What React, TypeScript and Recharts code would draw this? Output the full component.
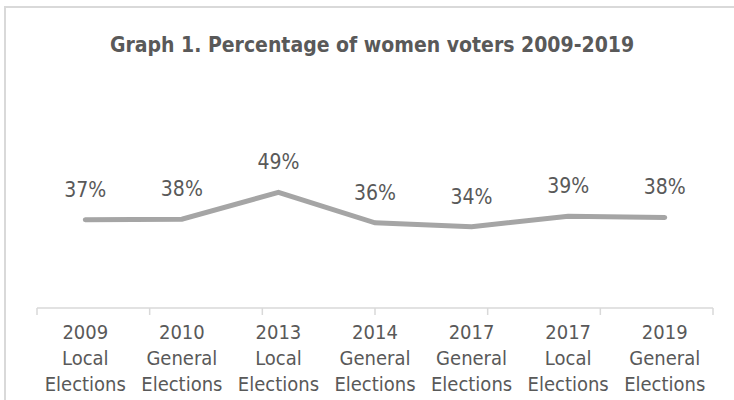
import { LineChart, Line, XAxis, YAxis, LabelList } from 'recharts';

const years = ['2009', '2010', '2013', '2014', '2017', '2017', '2019'];
const kinds = ['Local', 'General', 'Local', 'General', 'General', 'Local', 'General'];
// share of women voters (%), labels are rounded
const share = [37.4, 37.6, 49.0, 36.1, 34.4, 38.9, 38.4];
const boundaryTicks = [0, 1, 2, 3, 4, 5, 6, 7];

const data = years.map((y, i) => ({
    label: `${y} ${kinds[i]} Elections`,
    value: share[i],
}));

const FONT = "Tahoma, 'DejaVu Sans Condensed', 'DejaVu Sans', sans-serif";
const TEXT = '#595959';
const LINE = '#A5A5A5';
const AXIS = '#D9D9D9';

interface TickProps {
    x?: number;
    y?: number;
    payload?: { value: string };
}

const CategoryTick = ({ x, y, payload }: TickProps) => {
    if (x === undefined || y === undefined || !payload) return null;
    const words = payload.value.split(' ');
    return (
        <text x={x} y={y} textAnchor="middle" fill={TEXT} fontSize={20} fontFamily={FONT}>
            <tspan x={x} dy={30}>{words[0]}</tspan>
            <tspan x={x} dy={26}>{words[1]}</tspan>
            <tspan x={x} dy={26}>{words[2]}</tspan>
        </text>
    );
};

// boundary axis only needs its tick lines, no text
const NoLabel = () => <g />;

interface LabelProps {
    x?: number;
    y?: number;
    value?: number;
}

const PctLabel = ({ x, y, value }: LabelProps) => {
    if (x === undefined || y === undefined || value === undefined) return null;
    return (
        <text x={x} y={y - 23} textAnchor="middle" fill={TEXT} fontSize={21} fontFamily={FONT}>
            {`${Math.round(value)}%`}
        </text>
    );
};

export default function App() {
    return (
        <div
            style={{
                position: 'absolute',
                left: 0,
                top: 0,
                width: 734,
                height: 400,
                overflow: 'hidden',
                background: '#fff',
            }}
        >
            <div
                style={{
                    position: 'absolute',
                    left: 4,
                    top: 6,
                    width: 760,
                    height: 420,
                    border: `2px solid ${AXIS}`,
                    boxSizing: 'border-box',
                }}
            />
            <div
                style={{
                    position: 'absolute',
                    left: 0,
                    top: 33,
                    width: 744,
                    textAlign: 'center',
                    fontFamily: FONT,
                    fontWeight: 'bold',
                    fontSize: 21,
                    color: TEXT,
                }}
            >
                Graph 1. Percentage of women voters 2009-2019
            </div>
            <div style={{ position: 'absolute', left: 0, top: 0 }}>
                <LineChart
                    width={734}
                    height={400}
                    data={data}
                    margin={{ top: 72, right: 21, left: 37, bottom: 2 }}
                >
                    {/* boundary ticks between categories, Excel style */}
                    <XAxis
                        type="number"
                        domain={[0, 7]}
                        allowDataOverflow
                        ticks={boundaryTicks}
                        interval={0}
                        height={1}
                        tick={<NoLabel />}
                        tickSize={7}
                        axisLine={{ stroke: AXIS, strokeWidth: 1.5 }}
                        tickLine={{ stroke: AXIS, strokeWidth: 1.5 }}
                    />
                    <XAxis
                        xAxisId="cat"
                        dataKey="label"
                        scale="band"
                        interval={0}
                        height={89}
                        tickSize={0}
                        tickMargin={0}
                        axisLine={false}
                        tickLine={false}
                        tick={<CategoryTick />}
                    />
                    <YAxis hide domain={[0, 100]} />
                    <Line
                        xAxisId="cat"
                        dataKey="value"
                        stroke={LINE}
                        strokeWidth={5}
                        strokeLinecap="round"
                        dot={false}
                        activeDot={false}
                        isAnimationActive={false}
                    >
                        <LabelList dataKey="value" content={<PctLabel />} />
                    </Line>
                </LineChart>
            </div>
        </div>
    );
}
